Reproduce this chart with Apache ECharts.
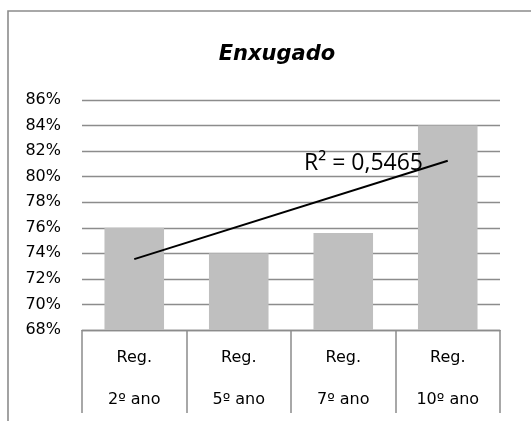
<!DOCTYPE html>
<html>
<head>
<meta charset="utf-8">
<script src="https://cdn.jsdelivr.net/npm/echarts@6/dist/echarts.min.js"></script>
<style>
html,body{margin:0;padding:0;background:#fff;}
#chart{width:531px;height:421px;}
</style>
</head>
<body>
<div id="chart"></div>
<script>
const categories = ['Reg.\n2º ano', 'Reg.\n5º ano', 'Reg.\n7º ano', 'Reg.\n10º ano'];
const values = [76, 74, 75.6, 84];
const trendValues = [73.55, null, null, 81.25];
const yTicks = { min: 68, max: 86, step: 2 };
const titleText = 'Enxugado';
const r2Text = 'R² = 0,5465';

const chart = echarts.init(document.getElementById('chart'), null, { renderer: 'canvas' });
const font = 'DejaVu Sans';
chart.setOption({
  animation: false,
  backgroundColor: '#ffffff',
  title: {
    text: titleText,
    left: 272,
    top: 39,
    textAlign: 'center',
    textStyle: { fontFamily: font, fontSize: 21, fontWeight: 'bold', fontStyle: 'italic', color: '#000' }
  },
  grid: { left: 82, right: 31, top: 100, bottom: 91 },
  xAxis: {
    type: 'category',
    data: categories,
    axisLine: { show: true, lineStyle: { color: '#8c8c8c', width: 1.3 } },
    axisTick: { show: true, length: 83, interval: 0, alignWithLabel: false, lineStyle: { color: '#8c8c8c', width: 1.5 } },
    axisLabel: { interval: 0, margin: 7, fontFamily: font, fontSize: 16, color: '#000', lineHeight: 42, verticalAlign: 'top' }
  },
  yAxis: {
    type: 'value',
    min: yTicks.min,
    max: yTicks.max,
    interval: yTicks.step,
    axisLine: { show: false },
    axisTick: { show: false },
    splitLine: { lineStyle: { color: '#8c8c8c', width: 1.4 } },
    axisLabel: { formatter: '{value}%', margin: 21, fontFamily: font, fontSize: 16, color: '#000' }
  },
  series: [
    {
      type: 'bar',
      data: values,
      barWidth: '57%',
      itemStyle: { color: '#bfbfbf' }
    },
    {
      type: 'line',
      data: trendValues,
      connectNulls: true,
      symbol: 'none',
      lineStyle: { color: '#000', width: 2 },
      z: 5
    }
  ],
  graphic: [
    {
      type: 'rect',
      shape: { x: 8, y: 11, width: 600, height: 500 },
      style: { fill: 'none', stroke: '#8c8c8c', lineWidth: 1.6 },
      silent: true, z: -1
    },
    {
      type: 'text',
      x: 304, y: 163,
      style: { text: r2Text, font: '23px "Open Sans"', fill: '#000', verticalAlign: 'middle', align: 'left' },
      z: 10
    }
  ]
});
</script>
</body>
</html>
